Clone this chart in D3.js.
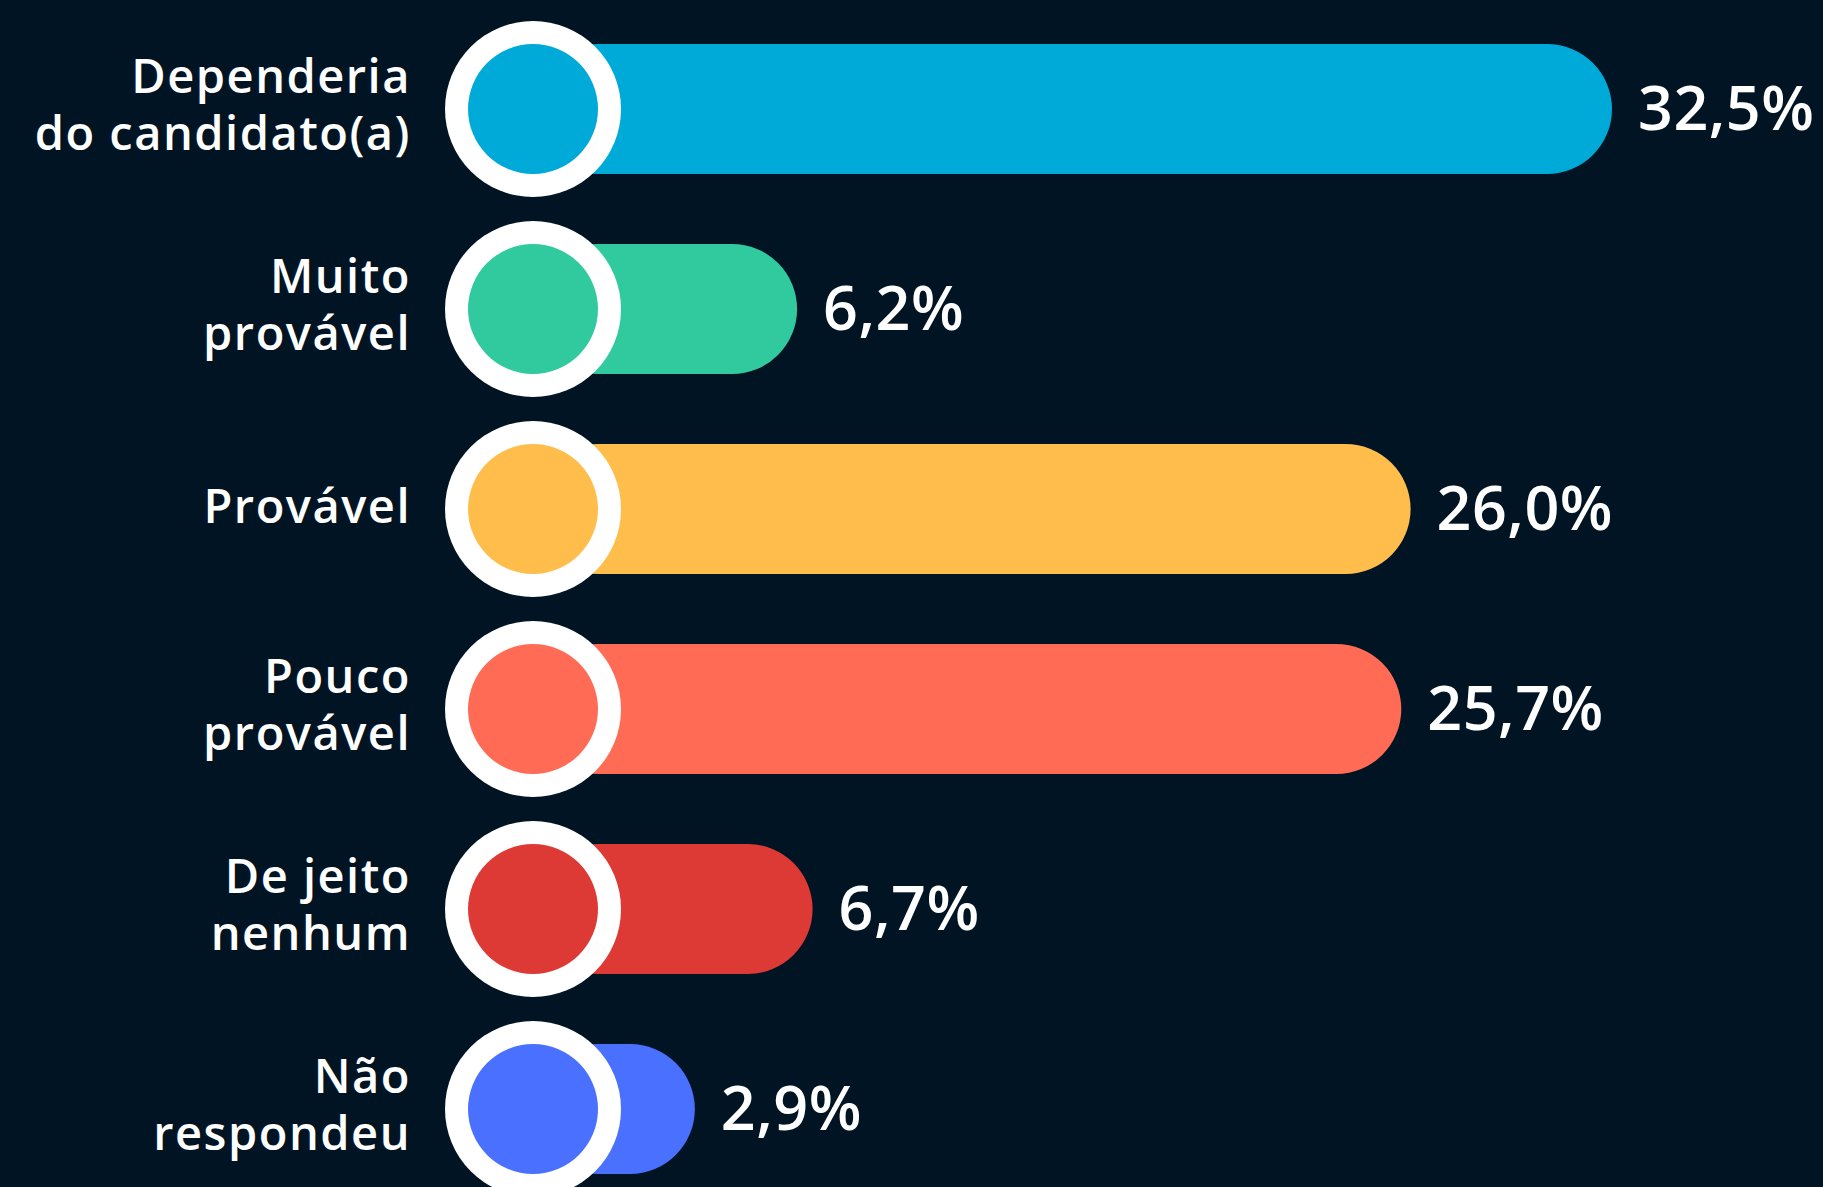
<!DOCTYPE html>
<html>
<head>
<meta charset="utf-8">
<script src="https://cdn.jsdelivr.net/npm/d3@7"></script>
<style>
  html, body { margin: 0; padding: 0; background: #011423; overflow: hidden; }
</style>
</head>
<body>
<script>
// data
var categories = ["Dependeria|do candidato(a)", "Muito|provável", "Provável", "Pouco|provável", "De jeito|nenhum", "Não|respondeu"];
var values = [32.5, 6.2, 26.0, 25.7, 6.7, 2.9];
var colors = ["#00AAD8", "#31C99E", "#FFBE4C", "#FF6B55", "#DE3A35", "#4A70FF"];

var width = 1823, height = 1187;

var svg = d3.select("body").append("svg")
    .attr("width", width)
    .attr("height", height);

svg.append("rect")
    .attr("width", width)
    .attr("height", height)
    .attr("fill", "#011423");

// scales
var x = d3.scaleLinear().domain([0, d3.max(values)]).range([605, 1612]);
var y = d3.scalePoint().domain(categories).range([109, 1109]);

var cx = 533, barH = 130, ringR = 88;

var data = categories.map(function(c, i) {
  return {cat: c, value: values[i], color: colors[i]};
});

var rows = svg.selectAll("g.row")
    .data(data)
    .enter().append("g")
    .attr("class", "row")
    .attr("transform", function(d) { return "translate(0," + y(d.cat) + ")"; });

// bars
rows.append("rect")
    .attr("x", cx)
    .attr("y", -barH / 2)
    .attr("width", function(d) { return x(d.value) - cx; })
    .attr("height", barH)
    .attr("rx", barH / 2)
    .attr("fill", function(d) { return d.color; });

// white ring + coloured dot
rows.append("circle")
    .attr("cx", cx)
    .attr("r", ringR)
    .attr("fill", "#ffffff");
rows.append("circle")
    .attr("cx", cx)
    .attr("r", barH / 2)
    .attr("fill", function(d) { return d.color; });

// value labels
rows.append("text")
    .attr("x", function(d) { return x(d.value) + 26; })
    .attr("y", 21)
    .attr("fill", "#ffffff")
    .attr("font-family", "Open Sans")
    .attr("font-weight", 600)
    .attr("font-size", 61)
    .attr("letter-spacing", 0.5)
    .text(function(d) { return d3.format(".1f")(d.value).replace(".", ",") + "%"; });

// category labels, one text per line
rows.each(function(d) {
  var lines = d.cat.split("|");
  var g = d3.select(this);
  lines.forEach(function(l, i) {
    var dy = lines.length === 1 ? 14 : (i === 0 ? -16 : 41);
    g.append("text")
        .attr("x", 411)
        .attr("y", dy)
        .attr("text-anchor", "end")
        .attr("fill", "#ffffff")
        .attr("font-family", "Open Sans")
        .attr("font-weight", 600)
        .attr("font-size", 47)
        .attr("letter-spacing", 1.5)
        .text(l);
  });
});
</script>
</body>
</html>
